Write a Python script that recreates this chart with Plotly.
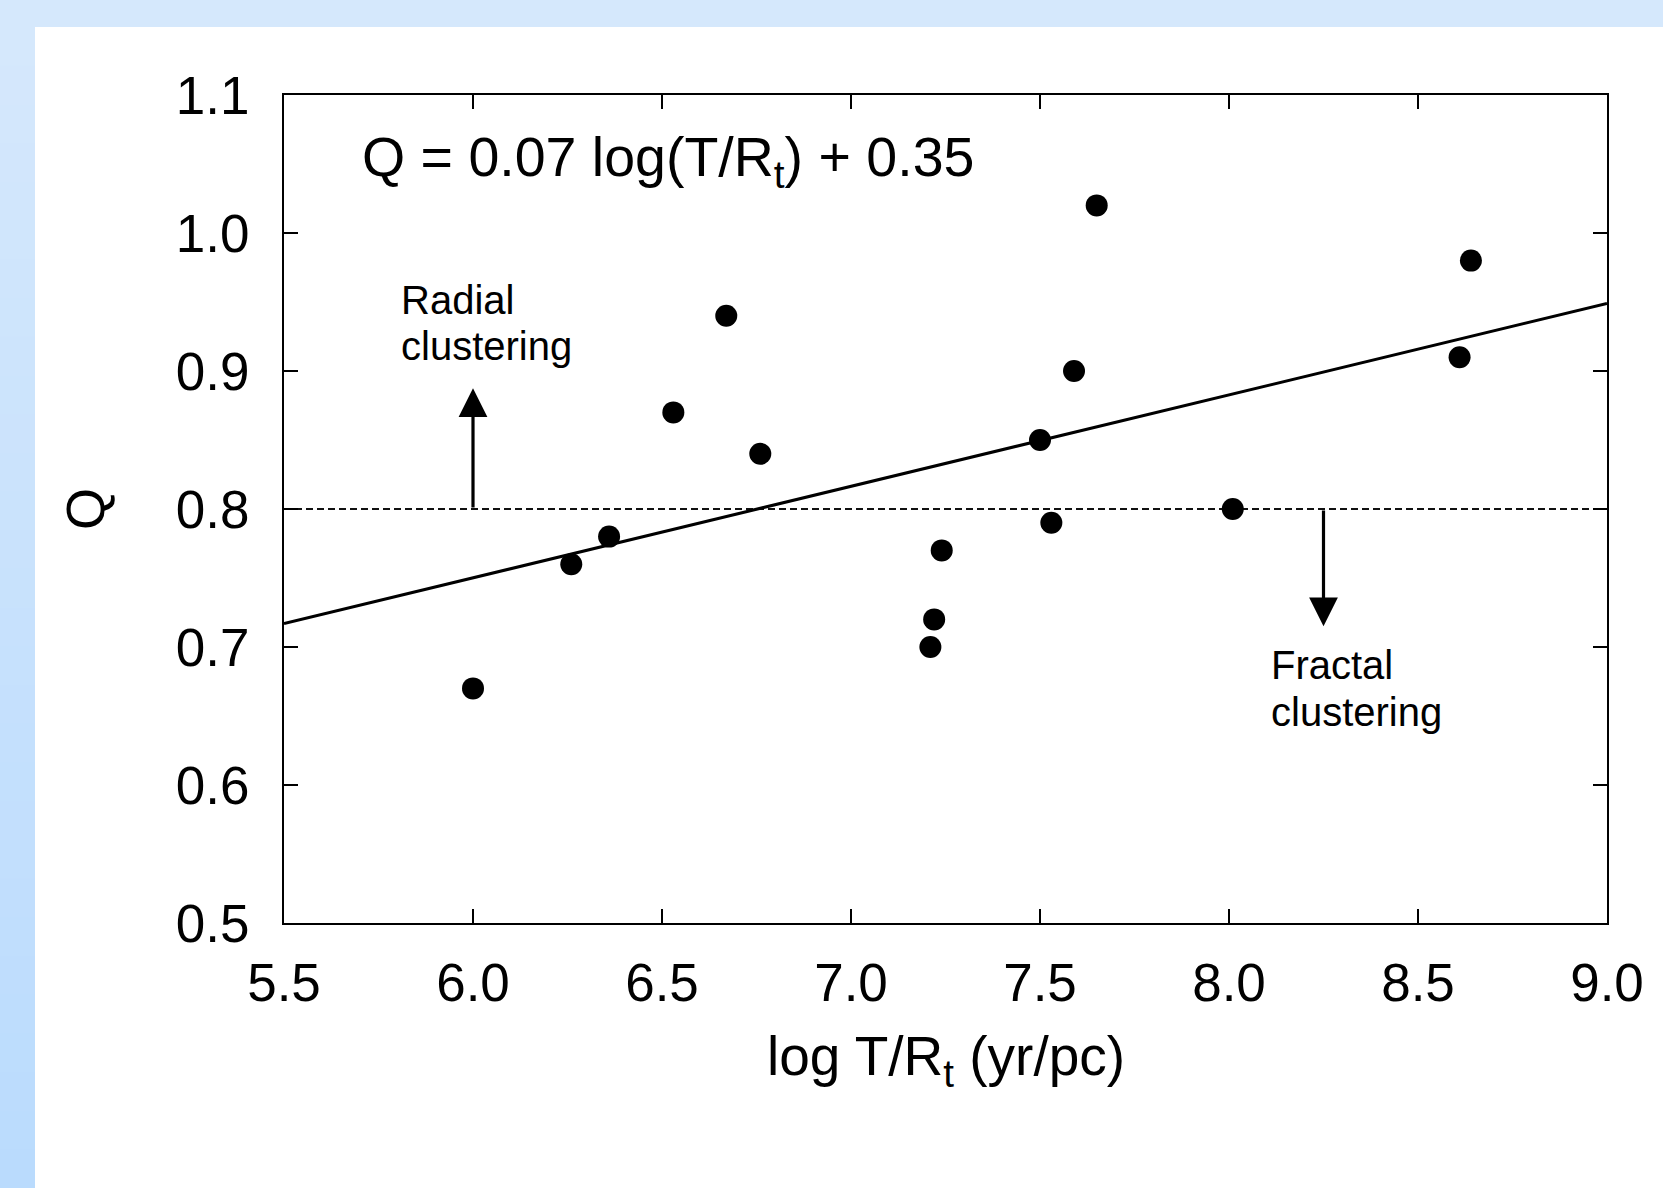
import plotly.graph_objects as go

# ---------------- data ----------------
log_t_over_r = [6.00, 6.26, 6.36, 6.53, 6.67, 6.76, 7.21, 7.22, 7.24,
                7.50, 7.53, 7.59, 7.65, 8.01, 8.61, 8.64]
q_values = [0.67, 0.76, 0.78, 0.87, 0.94, 0.84, 0.70, 0.72, 0.77,
            0.85, 0.79, 0.90, 1.02, 0.80, 0.91, 0.98]

fit_x = [5.5, 9.0]
fit_y = [0.717, 0.949]

threshold_q = 0.8
x_range = [5.5, 9.0]
y_range = [0.5, 1.1]

x_ticks = [5.5, 6.0, 6.5, 7.0, 7.5, 8.0, 8.5, 9.0]
y_ticks = [0.5, 0.6, 0.7, 0.8, 0.9, 1.0, 1.1]

radial_arrow_x = 6.0
radial_arrow_tip = 0.8875
fractal_arrow_x = 8.25
fractal_arrow_tip = 0.715

# ---------------- layout geometry (pixels) ----------------
W, H = 1663, 1188
L, R, T, B = 284, 1607, 95, 923
pw, ph = R - L, B - T


def px_x(px):
    return (px - L) / pw


def px_y(py):
    return (B - py) / ph


FONT = "Liberation Sans, Arial, Helvetica, sans-serif"

fig = go.Figure()

fig.add_trace(go.Scatter(
    x=x_range, y=[threshold_q, threshold_q], mode="lines",
    line=dict(color="#111", width=2, dash="7px,4px"),
    hoverinfo="skip", showlegend=False))

fig.add_trace(go.Scatter(
    x=fit_x, y=fit_y, mode="lines",
    line=dict(color="black", width=3),
    showlegend=False))

fig.add_trace(go.Scatter(
    x=log_t_over_r, y=q_values, mode="markers",
    marker=dict(color="black", size=22, line=dict(width=0)),
    showlegend=False))

# background: white panel with light blue top band and left strip
shapes = []
shapes.append(dict(type="rect", xref="paper", yref="paper",
                   x0=px_x(-5), x1=px_x(W + 5), y0=px_y(27), y1=px_y(-5),
                   fillcolor="#d5e8fc", line=dict(width=0), layer="below"))
n = 30
top_c = (213, 232, 252)
bot_c = (186, 219, 253)
for i in range(n):
    y0p = 27 + (H - 27) * i / n
    y1p = 27 + (H - 27) * (i + 1) / n
    f = (i + 0.5) / n
    c = tuple(round(top_c[k] + (bot_c[k] - top_c[k]) * f) for k in range(3))
    shapes.append(dict(type="rect", xref="paper", yref="paper",
                       x0=px_x(-5), x1=px_x(35), y0=px_y(y1p + 1), y1=px_y(y0p),
                       fillcolor="rgb(%d,%d,%d)" % c, line=dict(width=0),
                       layer="below"))

lab_font = dict(family=FONT, size=40, color="black")
annotations = [
    dict(x=radial_arrow_x, y=radial_arrow_tip, ax=radial_arrow_x, ay=threshold_q,
         xref="x", yref="y", axref="x", ayref="y", text="", showarrow=True,
         arrowhead=2, arrowsize=1.8, arrowwidth=3.2, arrowcolor="black", standoff=0),
    dict(x=fractal_arrow_x, y=fractal_arrow_tip, ax=fractal_arrow_x, ay=threshold_q,
         xref="x", yref="y", axref="x", ayref="y", text="", showarrow=True,
         arrowhead=2, arrowsize=1.8, arrowwidth=3.2, arrowcolor="black", standoff=0),
    dict(x=5.803, y=0.9514, xref="x", yref="y", xanchor="left", yanchor="middle",
         text="Radial", showarrow=False, font=lab_font),
    dict(x=5.803, y=0.9184, xref="x", yref="y", xanchor="left", yanchor="middle",
         text="clustering", showarrow=False, font=lab_font),
    dict(x=8.106, y=0.6870, xref="x", yref="y", xanchor="left", yanchor="middle",
         text="Fractal", showarrow=False, font=lab_font),
    dict(x=8.106, y=0.6532, xref="x", yref="y", xanchor="left", yanchor="middle",
         text="clustering", showarrow=False, font=lab_font),
    dict(x=5.70, y=1.052, xref="x", yref="y", xanchor="left", yanchor="middle",
         text="Q = 0.07 log(T/R<sub>t</sub>) + 0.35", showarrow=False,
         font=dict(family=FONT, size=55.5, color="black")),
    dict(x=0.5, y=0, xref="paper", yref="paper", xanchor="center", yanchor="middle",
         yshift=-(1060 - B), text="log T/R<sub>t</sub> (yr/pc)", showarrow=False,
         font=dict(family=FONT, size=55, color="black")),
    dict(x=0, y=0.5, xref="paper", yref="paper", xanchor="center", yanchor="middle",
         xshift=(85 - L), text="Q", textangle=-90, showarrow=False,
         font=dict(family=FONT, size=54, color="black")),
]

axis_common = dict(
    showgrid=False, zeroline=False, showline=True, linecolor="black", linewidth=2,
    mirror="ticks", ticks="inside", ticklen=14, tickwidth=2, tickcolor="black",
    tickfont=dict(family=FONT, size=53, color="black"), tickformat=".1f",
)

fig.update_layout(
    width=W, height=H,
    margin=dict(l=L, r=W - R, t=T, b=H - B, pad=0),
    paper_bgcolor="white", plot_bgcolor="rgba(0,0,0,0)",
    xaxis=dict(range=x_range, tickvals=x_ticks, ticklabelstandoff=12, **axis_common),
    yaxis=dict(range=y_range, tickvals=y_ticks, ticklabelstandoff=22, **axis_common),
    shapes=shapes, annotations=annotations, showlegend=False,
)

fig.write_html("out.html", config={"displayModeBar": False},
               post_script="document.body.style.margin='0';document.body.style.padding='0';")
